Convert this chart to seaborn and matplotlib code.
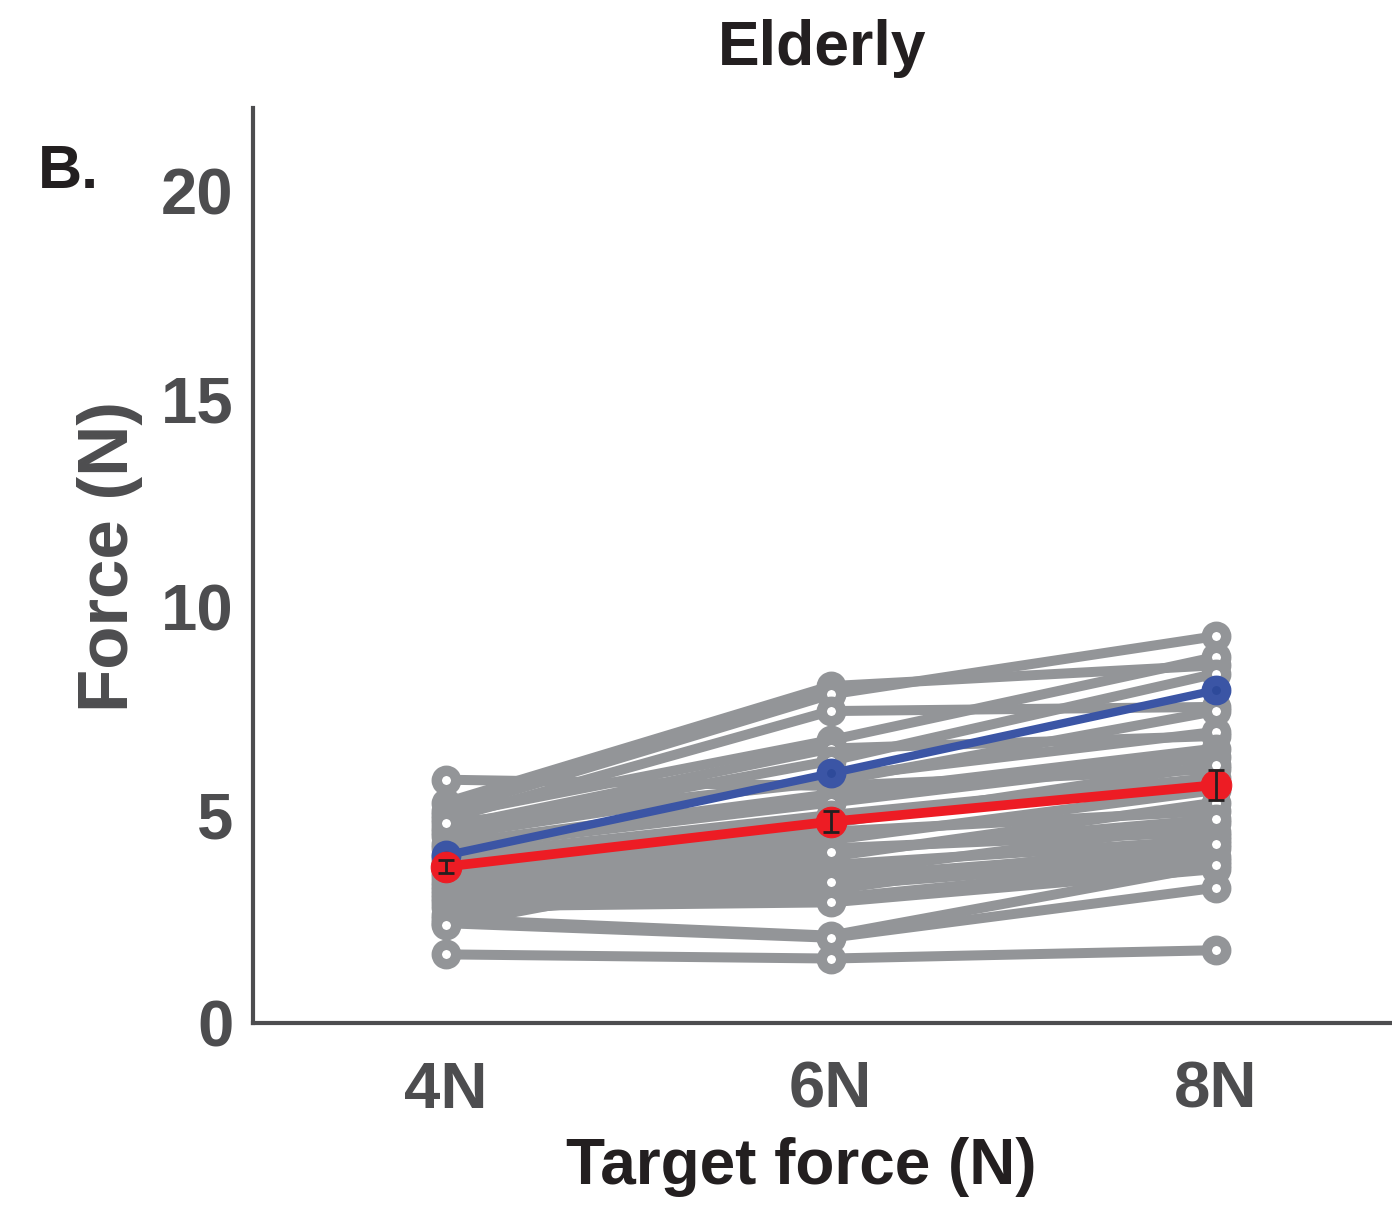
import numpy as np
import pandas as pd
import matplotlib
matplotlib.use("Agg")
import matplotlib.pyplot as plt
import seaborn as sns

# ---- data ----
targets = [4, 6, 8]
tick_labels = ["4N", "6N", "8N"]
f4 = [5.85, 5.3, 5.1, 5.0, 4.9, 4.7, 4.6, 4.5, 4.3, 4.2, 4.0, 3.9, 3.8, 3.7, 3.6,
      3.5, 3.4, 3.3, 3.2, 3.1, 3.0, 2.9, 2.8, 2.6, 2.5, 2.4, 2.35, 1.65, 4.8]
f6 = [5.7, 8.1, 7.9, 6.8, 7.5, 6.6, 6.3, 5.9, 5.5, 5.3, 5.0, 4.8, 4.6, 4.4, 4.2,
      4.0, 3.8, 3.6, 3.5, 3.3, 3.2, 3.0, 2.9, 3.4, 2.1, 2.05, 4.1, 1.55, 5.8]
f8 = [6.1, 8.6, 9.3, 8.8, 7.6, 6.9, 8.4, 7.0, 6.6, 6.4, 5.9, 6.2, 5.1, 5.6, 4.6,
      5.3, 4.4, 4.8, 4.2, 4.0, 4.5, 3.9, 3.7, 4.3, 3.8, 3.25, 4.9, 1.75, 7.5]
target_line = [4.03, 6.0, 8.0]
mean_force = [3.76, 4.84, 5.72]
sem_force = [0.15, 0.25, 0.37]

rows = []
for i, (a, b, c) in enumerate(zip(f4, f6, f8)):
    for t, v in zip(targets, (a, b, c)):
        rows.append({"subject": i, "target": t, "force": v})
df = pd.DataFrame(rows)
df_target = pd.DataFrame({"target": targets, "force": target_line})
df_mean = pd.DataFrame({"target": targets, "force": mean_force, "sem": sem_force})

sns.set_style("white")
plt.rcParams["font.family"] = ["Liberation Sans", "DejaVu Sans"]
plt.rcParams["font.weight"] = "bold"

fig = plt.figure(figsize=(13.92, 12.2), dpi=100)
ax = fig.add_axes([253 / 1392, 197 / 1220, 1155 / 1392, 915 / 1220])

gray = "#939598"
dark = "#4d4d4f"

sns.lineplot(data=df, x="target", y="force", units="subject", estimator=None,
             color=gray, linewidth=7.2, marker="o", markersize=14,
             markerfacecolor="white", markeredgecolor=gray, markeredgewidth=7.5,
             ax=ax, legend=False, zorder=2)

sns.lineplot(data=df_target, x="target", y="force", color="#3b55a5", linewidth=6,
             marker="o", markersize=14, markerfacecolor="#2e4a9a",
             markeredgecolor="#3b55a5", markeredgewidth=7.5, ax=ax, legend=False, zorder=4)

sns.lineplot(data=df_mean, x="target", y="force", color="#ed1c24", linewidth=7,
             marker="o", markersize=22, markerfacecolor="#ed1c24",
             markeredgecolor="#ed1c24", ax=ax, legend=False, zorder=5)
ax.errorbar(df_mean["target"], df_mean["force"], yerr=df_mean["sem"], fmt="none",
            ecolor="#231f20", elinewidth=2, capsize=6, capthick=2, zorder=6)

ax.set_xlim(3, 9)
ax.set_ylim(0, 22)
ax.set_xticks(targets)
ax.set_xticklabels(tick_labels)
ax.set_yticks([0, 5, 10, 15, 20])

for s in ["top", "right"]:
    ax.spines[s].set_visible(False)
for s in ["left", "bottom"]:
    ax.spines[s].set_color(dark)
    ax.spines[s].set_linewidth(3)

ax.tick_params(axis="both", direction="in", length=9, width=1.2, color=dark,
               labelsize=47, labelcolor=dark)
ax.tick_params(axis="x", pad=27)
ax.tick_params(axis="y", pad=14)
for lab in ax.get_xticklabels() + ax.get_yticklabels():
    lab.set_fontweight("bold")

ax.set_xlabel("Target force (N)", fontsize=46, fontweight="bold", color="#231f20",
              va="center", ha="center")
ax.xaxis.set_label_coords((801 - 253) / 1155, -(1167 - 1023) / 915)
ax.set_ylabel("Force (N)", fontsize=51, fontweight="bold", color=dark,
              va="center", ha="center")
ax.yaxis.set_label_coords((110 - 253) / 1155, (1023 - 557) / 915)

fig.text(822 / 1392, 1 - 49 / 1220, "Elderly", fontsize=45, fontweight="bold",
         color="#231f20", ha="center", va="center")
fig.text(38 / 1392, 1 - 173 / 1220, "B.", fontsize=44, fontweight="bold",
         color="#231f20", ha="left", va="center")

fig.savefig("out.png", dpi=100)
